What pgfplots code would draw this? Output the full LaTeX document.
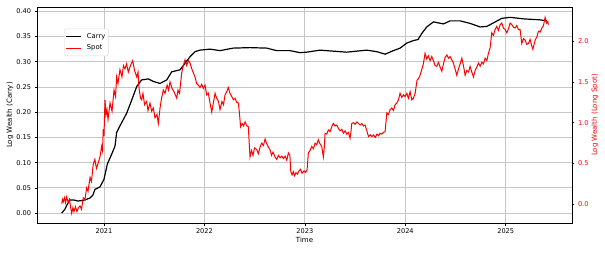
\documentclass[border=0pt]{standalone}
\usepackage{pgfplots}
\pgfplotsset{compat=1.18}
\usepackage{fontspec}
\setmainfont{DejaVu Sans}
\pgfplotsset{
  every axis/.append style={font=\fontsize{7}{8.4}\selectfont},
  tick label style={font=\fontsize{6.6}{8}\selectfont},
}
\begin{document}
\begin{tikzpicture}
\begin{axis}[
  name=main,
  scale only axis, width=535pt, height=216pt,
  xmin=2020.333, xmax=2025.66,
  ymin=-0.0196, ymax=0.4085,
  xtick={2021,2022,2023,2024,2025},
  xticklabels={2021,2022,2023,2024,2025},
  ytick={0,0.05,0.1,0.15,0.2,0.25,0.3,0.35,0.4},
  yticklabels={0.00,0.05,0.10,0.15,0.20,0.25,0.30,0.35,0.40},
  xtick pos=bottom, ytick pos=left,
  tick align=outside, major tick length=2.5pt,
  tick style={black, line width=0.6pt},
  grid=major,
  major grid style={gray!45, line width=0.8pt},
  axis line style={black, line width=0.8pt},
  xlabel={Time},
  ylabel={Log Wealth (Carry)},
  xlabel style={at={(axis description cs:0.5,-0.079)}, anchor=center},
  ylabel style={at={(axis description cs:-0.0505,0.5)}, anchor=center},
]
\addplot[black, line width=1.2pt] coordinates {
(2020.579,0.000) (2020.612,0.008) (2020.628,0.015) (2020.661,0.026) (2020.700,0.026)
(2020.741,0.024) (2020.780,0.025) (2020.811,0.026) (2020.861,0.030) (2020.890,0.036)
(2020.910,0.047) (2020.960,0.052) (2021.000,0.067) (2021.033,0.097) (2021.077,0.117)
(2021.110,0.133) (2021.126,0.160) (2021.159,0.173) (2021.226,0.198) (2021.276,0.224)
(2021.326,0.251) (2021.375,0.264) (2021.441,0.266) (2021.491,0.261) (2021.558,0.257)
(2021.625,0.264) (2021.674,0.280) (2021.757,0.284) (2021.807,0.297) (2021.857,0.310)
(2021.906,0.320) (2021.956,0.323) (2022.056,0.325) (2022.155,0.322) (2022.285,0.327)
(2022.454,0.328) (2022.621,0.327) (2022.720,0.322) (2022.853,0.322) (2022.952,0.318)
(2023.019,0.319) (2023.151,0.323) (2023.281,0.321) (2023.417,0.319) (2023.616,0.323)
(2023.716,0.320) (2023.799,0.315) (2023.881,0.322) (2023.948,0.327) (2024.015,0.337)
(2024.081,0.342) (2024.127,0.344) (2024.164,0.356) (2024.214,0.369) (2024.280,0.379)
(2024.380,0.375) (2024.446,0.381) (2024.546,0.381) (2024.645,0.376) (2024.745,0.369)
(2024.812,0.370) (2024.877,0.377) (2024.961,0.386) (2025.044,0.388) (2025.177,0.385)
(2025.343,0.383) (2025.409,0.381)
};
\end{axis}
\begin{axis}[
  scale only axis, width=535pt, height=216pt,
  at={(main.south west)}, anchor=south west,
  xmin=2020.333, xmax=2025.66,
  ymin=-0.229, ymax=2.417,
  axis x line=none,
  axis y line*=right,
  ytick={0,0.5,1,1.5,2},
  yticklabels={0.0,0.5,1.0,1.5,2.0},
  tick align=outside, major tick length=2.5pt,
  tick style={black, line width=0.6pt},
  yticklabel style={red},
  axis line style={black, line width=0.8pt},
  ylabel={Log Wealth (Long Spot)},
  ylabel style={red, at={(axis description cs:1.043,0.5)}, anchor=center},
  legend style={at={(axis description cs:0.0505,0.9)}, anchor=north west,
    draw=gray!30, rounded corners=1.5pt, fill=white,
    font=\fontsize{6.8}{8}\selectfont, inner xsep=1pt, inner ysep=2.5pt,
    row sep=1pt,
    /tikz/every odd column/.append style={column sep=3pt}},
  legend cell align=left,
  legend image code/.code={\draw[#1] (0pt,0pt) -- (15.5pt,0pt);},
]
\addlegendimage{black, line width=1.2pt}
\addlegendentry{Carry}
\addplot[red, line width=1.0pt] coordinates {
(2020.579,0.01) (2020.587,0.06) (2020.595,0.03) (2020.607,0.08) (2020.617,0.02)
(2020.628,0.09) (2020.644,0.02) (2020.656,0.06) (2020.666,-0.02) (2020.678,-0.11)
(2020.691,-0.04) (2020.701,-0.09) (2020.716,-0.03) (2020.731,-0.09) (2020.746,-0.04)
(2020.761,-0.02) (2020.776,-0.06) (2020.794,0.08) (2020.811,0.06) (2020.827,0.20)
(2020.841,0.16) (2020.861,0.33) (2020.875,0.28) (2020.893,0.49) (2020.909,0.55)
(2020.925,0.44) (2020.943,0.51) (2020.960,0.58) (2020.977,0.71) (2020.985,0.66)
(2020.993,0.92) (2021.000,0.84) (2021.010,1.28) (2021.020,1.10) (2021.030,1.16)
(2021.040,1.04) (2021.060,1.24) (2021.080,1.14) (2021.100,1.40) (2021.115,1.32)
(2021.126,1.56) (2021.139,1.48) (2021.159,1.65) (2021.179,1.56) (2021.194,1.70)
(2021.209,1.66) (2021.225,1.72) (2021.242,1.62) (2021.264,1.70) (2021.286,1.76)
(2021.304,1.64) (2021.326,1.56) (2021.339,1.62) (2021.349,1.42) (2021.364,1.30)
(2021.375,1.28) (2021.388,1.36) (2021.404,1.22) (2021.425,1.26) (2021.438,1.15)
(2021.458,1.24) (2021.475,1.14) (2021.491,1.18) (2021.508,1.06) (2021.528,1.10)
(2021.541,0.99) (2021.558,1.18) (2021.573,1.30) (2021.591,1.40) (2021.608,1.36)
(2021.629,1.46) (2021.643,1.40) (2021.657,1.50) (2021.677,1.42) (2021.697,1.38)
(2021.724,1.30) (2021.737,1.40) (2021.752,1.36) (2021.774,1.61) (2021.790,1.70)
(2021.807,1.77) (2021.823,1.70) (2021.841,1.76) (2021.857,1.73) (2021.874,1.66)
(2021.890,1.61) (2021.906,1.56) (2021.923,1.48) (2021.939,1.46) (2021.956,1.43)
(2021.973,1.47) (2021.989,1.42) (2022.006,1.46) (2022.023,1.34) (2022.039,1.36)
(2022.056,1.24) (2022.073,1.13) (2022.086,1.22) (2022.106,1.36) (2022.122,1.30)
(2022.140,1.26) (2022.155,1.16) (2022.175,1.26) (2022.190,1.22) (2022.205,1.34)
(2022.222,1.38) (2022.238,1.43) (2022.255,1.36) (2022.272,1.32) (2022.288,1.28)
(2022.305,1.30) (2022.321,1.25) (2022.338,1.24) (2022.350,1.10) (2022.360,0.95)
(2022.375,0.99) (2022.390,0.96) (2022.405,1.01) (2022.422,0.96) (2022.437,0.95)
(2022.446,0.75) (2022.454,0.58) (2022.469,0.66) (2022.484,0.60) (2022.499,0.69)
(2022.521,0.67) (2022.537,0.62) (2022.554,0.70) (2022.571,0.75) (2022.587,0.72)
(2022.604,0.80) (2022.621,0.74) (2022.637,0.70) (2022.653,0.67) (2022.668,0.60)
(2022.683,0.64) (2022.703,0.58) (2022.720,0.55) (2022.737,0.60) (2022.753,0.57)
(2022.770,0.59) (2022.786,0.56) (2022.803,0.59) (2022.820,0.54) (2022.836,0.63)
(2022.851,0.60) (2022.860,0.40) (2022.873,0.36) (2022.885,0.40) (2022.897,0.35)
(2022.912,0.39) (2022.927,0.37) (2022.942,0.41) (2022.957,0.43) (2022.972,0.38)
(2022.992,0.41) (2023.007,0.39) (2023.022,0.42) (2023.035,0.63) (2023.052,0.66)
(2023.069,0.71) (2023.085,0.68) (2023.102,0.75) (2023.118,0.73) (2023.134,0.79)
(2023.151,0.74) (2023.168,0.71) (2023.184,0.58) (2023.194,0.70) (2023.201,0.87)
(2023.218,0.86) (2023.234,0.91) (2023.251,0.89) (2023.268,0.95) (2023.284,0.99)
(2023.301,0.96) (2023.318,0.97) (2023.334,0.93) (2023.351,0.90) (2023.368,0.92)
(2023.384,0.87) (2023.401,0.90) (2023.418,0.86) (2023.434,0.88) (2023.450,0.81)
(2023.460,0.90) (2023.467,0.99) (2023.484,1.00) (2023.501,0.98) (2023.518,1.01)
(2023.534,0.99) (2023.550,0.97) (2023.567,0.99) (2023.583,0.96) (2023.600,0.97)
(2023.617,0.90) (2023.634,0.83) (2023.651,0.85) (2023.668,0.83) (2023.684,0.85)
(2023.701,0.82) (2023.718,0.86) (2023.734,0.84) (2023.749,0.87) (2023.766,0.86)
(2023.782,0.88) (2023.799,0.89) (2023.816,1.12) (2023.832,1.10) (2023.849,1.16)
(2023.866,1.18) (2023.882,1.15) (2023.899,1.22) (2023.915,1.24) (2023.932,1.28)
(2023.948,1.36) (2023.965,1.31) (2023.982,1.34) (2023.998,1.32) (2024.015,1.36)
(2024.031,1.30) (2024.048,1.38) (2024.065,1.28) (2024.081,1.30) (2024.098,1.36)
(2024.117,1.52) (2024.131,1.54) (2024.147,1.58) (2024.164,1.65) (2024.180,1.72)
(2024.197,1.85) (2024.214,1.78) (2024.230,1.82) (2024.247,1.76) (2024.264,1.81)
(2024.280,1.76) (2024.297,1.70) (2024.314,1.69) (2024.330,1.74) (2024.347,1.68)
(2024.364,1.63) (2024.380,1.72) (2024.397,1.80) (2024.414,1.83) (2024.430,1.79)
(2024.446,1.81) (2024.463,1.77) (2024.479,1.73) (2024.496,1.66) (2024.513,1.58)
(2024.530,1.66) (2024.546,1.72) (2024.563,1.79) (2024.579,1.70) (2024.596,1.58)
(2024.613,1.64) (2024.630,1.62) (2024.645,1.69) (2024.662,1.62) (2024.679,1.56)
(2024.695,1.64) (2024.712,1.68) (2024.729,1.73) (2024.745,1.69) (2024.762,1.74)
(2024.778,1.72) (2024.795,1.79) (2024.812,1.76) (2024.828,1.85) (2024.845,1.92)
(2024.861,2.10) (2024.877,2.07) (2024.894,2.14) (2024.911,2.18) (2024.927,2.13)
(2024.944,2.20) (2024.961,2.22) (2024.977,2.16) (2024.994,2.14) (2025.011,2.10)
(2025.027,2.15) (2025.044,2.22) (2025.061,2.20) (2025.077,2.17) (2025.094,2.16)
(2025.110,2.19) (2025.127,2.14) (2025.143,2.14) (2025.160,1.97) (2025.177,2.03)
(2025.193,2.01) (2025.210,1.96) (2025.226,1.97) (2025.243,2.02) (2025.257,1.95)
(2025.270,1.90) (2025.283,1.96) (2025.293,2.01) (2025.310,2.05) (2025.326,2.12)
(2025.343,2.11) (2025.360,2.16) (2025.376,2.19) (2025.392,2.29) (2025.407,2.22)
(2025.419,2.24) (2025.425,2.20)
};
\addlegendentry{Spot}
\end{axis}
\pgfresetboundingbox
\path[use as bounding box] ([shift={(-37pt,-29pt)}]main.south west) rectangle ([shift={(33pt,7pt)}]main.north east);
\end{tikzpicture}
\end{document}
